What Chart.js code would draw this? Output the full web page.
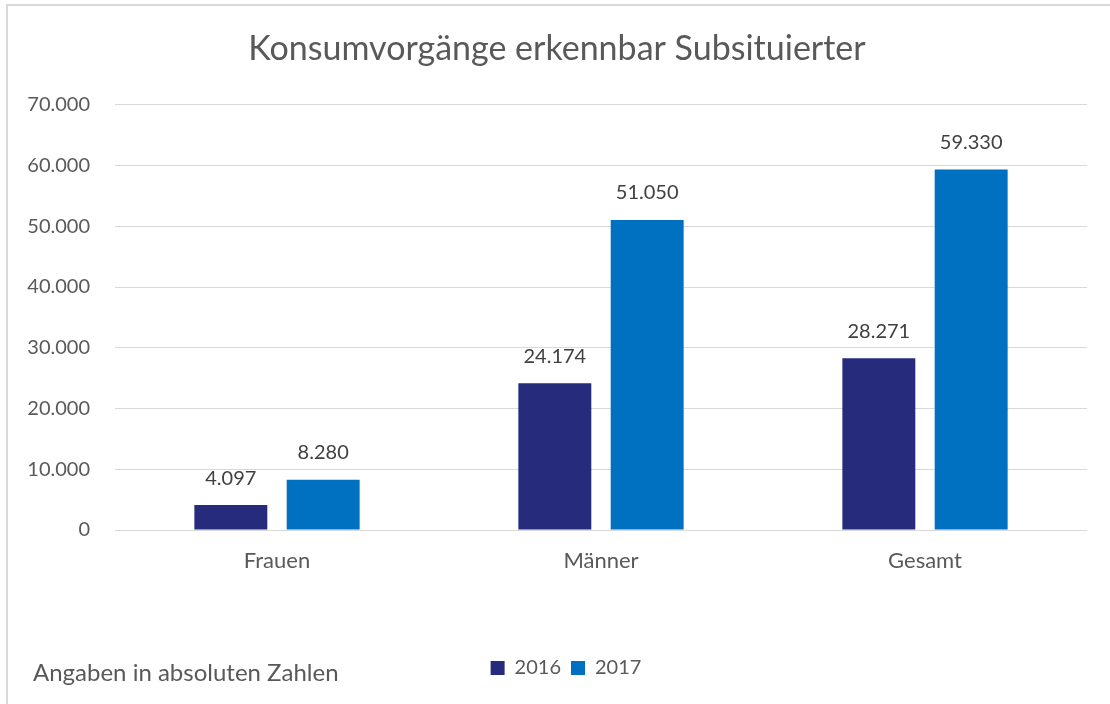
<!DOCTYPE html>
<html>
<head>
<meta charset="utf-8">
<script src="https://cdn.jsdelivr.net/npm/chart.js@4/dist/chart.umd.min.js"></script>
<style>
  html, body { margin: 0; padding: 0; background: #fff; }
  #wrap { position: relative; width: 1110px; height: 704px; }
</style>
</head>
<body>
<div id="wrap"><canvas id="chart" width="1110" height="704"></canvas></div>
<script>
// Daten
const categories = ['Frauen', 'Männer', 'Gesamt'];
const years = ['2016', '2017'];
const values2016 = [4097, 24174, 28271];
const values2017 = [8280, 51050, 59330];
const yTicks = [0, 10000, 20000, 30000, 40000, 50000, 60000, 70000];

const FONT = "Lato, 'Open Sans', sans-serif";
const fmt = v => v === 0 ? '0' : v.toLocaleString('de-DE');

// Rahmen + Fußnote, Legende etwas nach rechts
const framePlugin = {
  id: 'frame',
  afterLayout(chart) {
    chart.legend.left += 9;
    chart.legend.right += 9;
  },
  beforeDraw(chart) {
    const c = chart.ctx;
    c.save();
    c.strokeStyle = '#d9d9d9';
    c.lineWidth = 2;
    c.beginPath();
    c.moveTo(7, 720);
    c.lineTo(7, 5);
    c.lineTo(1120, 5);
    c.stroke();
    c.restore();
  },
  afterDraw(chart) {
    const c = chart.ctx;
    c.save();
    c.font = `24px ${FONT}`;
    c.fillStyle = '#595959';
    c.textBaseline = 'middle';
    c.fillText('Angaben in absoluten Zahlen', 33, 673);
    c.restore();
  }
};

// Werte über den Balken
const labelPlugin = {
  id: 'barLabels',
  afterDatasetsDraw(chart) {
    const c = chart.ctx;
    c.save();
    c.font = `20px ${FONT}`;
    c.fillStyle = '#404040';
    c.textAlign = 'center';
    c.textBaseline = 'middle';
    chart.data.datasets.forEach((ds, i) => {
      chart.getDatasetMeta(i).data.forEach((bar, j) => {
        c.fillText(fmt(ds.data[j]), bar.x, bar.y - 27);
      });
    });
    c.restore();
  }
};

new Chart(document.getElementById('chart'), {
  type: 'bar',
  data: {
    labels: categories,
    datasets: [
      { label: years[0], data: values2016, backgroundColor: '#262b7c' },
      { label: years[1], data: values2017, backgroundColor: '#0070c0' }
    ]
  },
  options: {
    responsive: false,
    animation: false,
    layout: { padding: { top: 13, left: 27, right: 23, bottom: 16 } },
    datasets: { bar: { categoryPercentage: 0.57, barPercentage: 0.79 } },
    scales: {
      x: {
        grid: { display: false },
        border: { display: false },
        ticks: { color: '#595959', font: { family: FONT, size: 22 }, padding: 10 },
        afterFit(scale) { scale.height = 118; }
      },
      y: {
        min: 0,
        max: 70000,
        afterBuildTicks(scale) { scale.ticks = yTicks.map(v => ({ value: v })); },
        grid: { color: '#d9d9d9', lineWidth: 1, drawTicks: false },
        border: { display: false },
        ticks: {
          color: '#595959',
          font: { family: FONT, size: 20 },
          padding: 25,
          callback: v => fmt(v)
        },
        afterFit(scale) { scale.width = 88; }
      }
    },
    plugins: {
      title: {
        display: true,
        text: 'Konsumvorgänge erkennbar Subsituierter',
        color: '#595959',
        font: { family: FONT, size: 34, weight: 'normal' },
        padding: { top: 16, bottom: 35 }
      },
      legend: {
        position: 'bottom',
        labels: {
          color: '#595959',
          font: { family: FONT, size: 20 },
          boxWidth: 14,
          boxHeight: 14,
          padding: 10
        }
      },
      tooltip: { enabled: false }
    }
  },
  plugins: [framePlugin, labelPlugin]
});
</script>
</body>
</html>
